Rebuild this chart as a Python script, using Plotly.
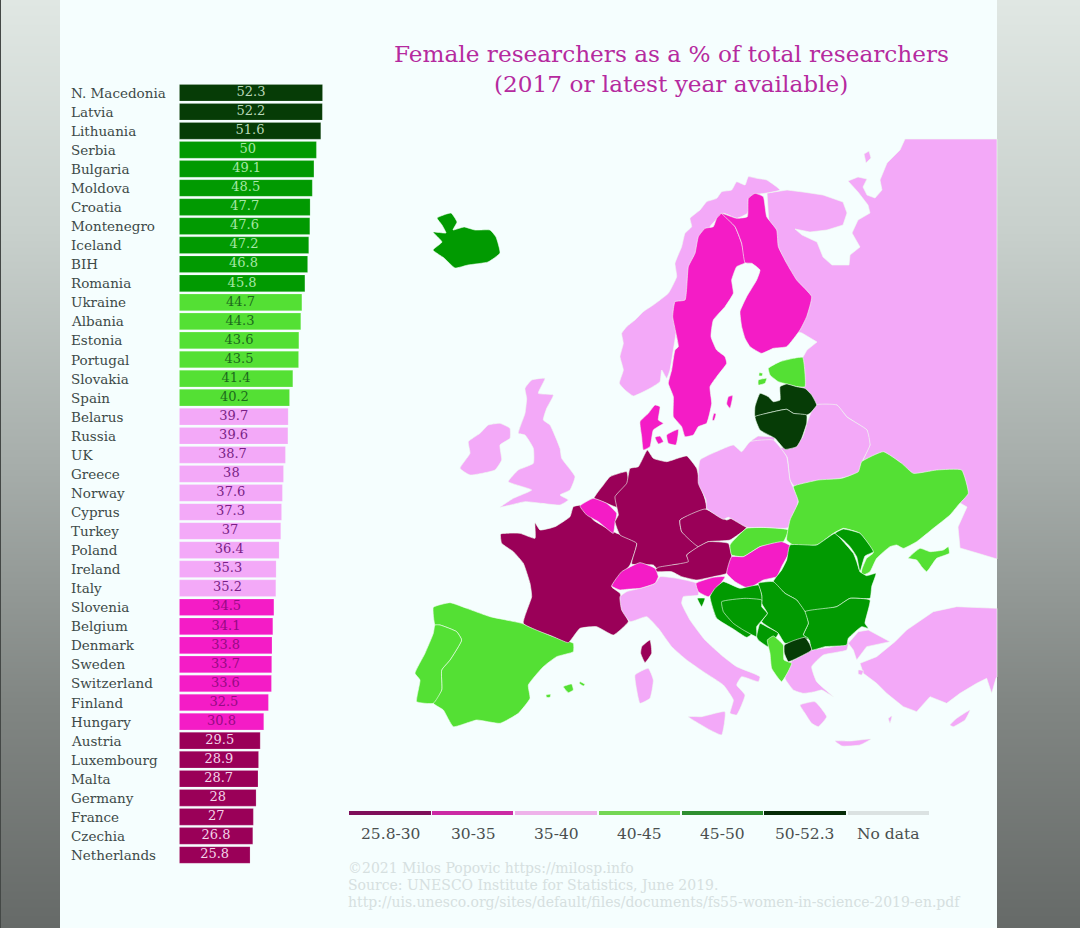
import plotly.graph_objects as go

# bar chart values, top to bottom
countries = ["N. Macedonia", "Latvia", "Lithuania", "Serbia", "Bulgaria", "Moldova", "Croatia",
             "Montenegro", "Iceland", "BIH", "Romania", "Ukraine", "Albania", "Estonia", "Portugal",
             "Slovakia", "Spain", "Belarus", "Russia", "UK", "Greece", "Norway", "Cyprus", "Turkey",
             "Poland", "Ireland", "Italy", "Slovenia", "Belgium", "Denmark", "Sweden", "Switzerland",
             "Finland", "Hungary", "Austria", "Luxembourg", "Malta", "Germany", "France", "Czechia",
             "Netherlands"]
shares = [52.3, 52.2, 51.6, 50, 49.1, 48.5, 47.7, 47.6, 47.2, 46.8, 45.8, 44.7, 44.3, 43.6, 43.5,
          41.4, 40.2, 39.7, 39.6, 38.7, 38, 37.6, 37.3, 37, 36.4, 35.3, 35.2, 34.5, 34.1, 33.8,
          33.7, 33.6, 32.5, 30.8, 29.5, 28.9, 28.7, 28, 27, 26.8, 25.8]

# legend
bin_labels = ["25.8-30", "30-35", "35-40", "40-45", "45-50", "50-52.3", "No data"]
bin_tops = [30, 35, 40, 45, 50, 60]
bin_colors = ["#9a0058", "#f41cc6", "#f3a9f8", "#54e034", "#019a01", "#063c06"]
bin_text = ["#f3d5ea", "#960a84", "#7a1f86", "#1c6a1c", "#a6e8a6", "#b9d8b9"]
legend_colors = ["#7e0f5a", "#cb2aa4", "#eeb2ea", "#74d654", "#2e8f30", "#062c08", "#dbe2e2"]
legend_left = [349, 432, 515, 599, 682, 764, 848]
legend_right = [431, 513, 597, 680, 763, 846, 929]
legend_mid = [390, 473, 556, 639, 722, 804, 888]

credit_lines = ["©2021 Milos Popovic https://milosp.info",
                "Source: UNESCO Institute for Statistics, June 2019.",
                "http://uis.unesco.org/sites/default/files/documents/fs55-women-in-science-2019-en.pdf"]

# side strip gradient, read down the edge of the picture
strip_y = [0, 230, 460, 700, 928]
strip_colors = ["#e0e7e3", "#c8d0cc", "#a7aeab", "#818683", "#666a68"]

sweden = [(335,250),(320,265),(310,290),(285,295),(265,320),(255,370),(235,410),(225,510),(195,515),(188,560),(205,650),(195,660),(185,720),(175,760),(190,800),(190,860),(215,890),(225,920),(250,915),(265,890),(290,880),(305,820),(300,770),(320,740),(350,700),(345,680),(320,660),(303,620),(310,570),(345,530),(370,490),(365,450),(380,410),(405,398),(395,340),(375,290)]
finland = [(405,398),(425,400),(450,420),(440,450),(410,500),(390,545),(395,590),(405,625),(420,650),(455,670),(490,655),(530,650),(570,600),(590,560),(605,500),(560,450),(530,400),(505,350),(500,300),(470,260),(460,200),(435,190),(415,205),(412,260),(380,265),(335,250),(375,290),(395,340)]
norway = [(470,150),(440,145),(415,140),(405,165),(380,155),(365,180),(335,185),(320,205),(290,215),(270,240),(240,265),(245,290),(225,310),(215,350),(195,400),(200,440),(175,490),(150,510),(130,525),(100,545),(75,570),(50,590),(35,610),(40,640),(30,680),(40,720),(28,760),(45,780),(70,798),(120,775),(150,755),(155,720),(170,745),(180,720),(200,600),(260,400),(300,290),(340,250),(380,265),(412,250),(430,195),(465,190),(510,180)]
jutland = [(90,875),(115,850),(135,825),(150,830),(145,870),(160,880),(130,900),(120,950),(100,960),(95,920)]
funen = [(135,922),(150,918),(160,935),(145,942)]
zealand = [(170,915),(205,898),(198,945),(175,940)]
gotland = [(355,800),(368,797),(360,835),(350,822)]
oland = [(312,850),(318,852),(312,872),(307,870)]
estonia = [(475,715),(510,695),(550,685),(578,682),(585,770),(560,770),(530,762),(505,755),(480,735)]
saaremaa = [(445,750),(470,745),(465,760),(445,765)]
hiiumaa = [(448,728),(458,730),(456,738),(447,737)]
latvia = [(435,860),(435,830),(450,790),(475,800),(490,815),(510,810),(510,770),(530,762),(560,770),(585,775),(605,795),(620,825),(600,850),(590,855),(550,850),(530,838),(470,850)]
lithuania = [(435,860),(470,850),(530,838),(550,850),(590,855),(590,880),(575,925),(560,950),(525,958),(495,925),(450,900)]

france = [(272,492),(330,490),(375,505),(375,458),(390,480),(435,470),(480,440),(490,410),(520,405),(550,450),(610,485),(680,518),(660,585),(605,650),(630,670),(640,720),(655,755),(610,795),(560,770),(510,775),(490,800),(475,818),(430,800),(340,760),(365,680),(360,640),(340,580),(310,545),(275,520)]
belgium = [(510,408),(550,385),(590,400),(620,430),(615,460),(610,490),(565,455),(530,435)]
netherlands = [(552,385),(580,345),(600,320),(650,305),(655,335),(640,360),(620,380),(622,412),(590,400)]
britain = [(345,55),(365,30),(405,25),(385,70),(430,75),(410,115),(400,150),(420,165),(450,235),(455,265),(495,320),(480,360),(450,375),(475,390),(450,405),(395,400),(345,395),(270,412),(310,385),(365,360),(295,335),(325,300),(370,280),(370,235),(345,195),(325,190),(345,130),(350,85)]
ireland = [(150,295),(180,250),(175,215),(210,190),(235,165),(270,160),(300,175),(300,205),(270,225),(275,270),(255,300),(180,315)]
spain = [(70,712),(120,698),(170,715),(240,740),(335,760),(430,800),(490,820),(490,845),(440,860),(400,890),(355,945),(360,985),(325,1030),(270,1060),(200,1050),(130,1070),(100,1020),(70,1000),(95,960),(95,900),(120,870),(155,810),(140,785),(90,765),(75,765)]
portugal = [(75,765),(90,765),(140,785),(155,810),(120,870),(95,900),(95,960),(70,1000),(20,995),(30,930),(15,910),(45,850),(70,790)]
mallorca = [(460,950),(485,942),(490,960),(475,968)]
menorca = [(510,935),(525,943),(520,948),(508,940)]
ibiza = [(408,975),(422,973),(420,982),(410,982)]

germany = [(120,85),(145,80),(172,30),(190,55),(230,65),(290,48),(320,85),(330,130),(350,205),(270,240),(275,275),(325,320),(290,345),(300,370),(250,375),(205,390),(190,375),(125,372),(140,310),(90,285),(75,245),(85,225),(75,170),(110,130)]
czechia = [(270,240),(345,207),(410,240),(425,235),(470,262),(420,300),(355,305),(325,320),(275,275)]
austria = [(190,395),(205,382),(245,375),(295,365),(290,345),(325,320),(355,305),(415,310),(425,350),(410,400),(370,410),(320,420),(275,410),(245,395)]
switzerland = [(65,438),(95,395),(150,368),(195,385),(205,410),(195,430),(150,445),(110,448),(90,450)]
slovenia = [(318,430),(370,412),(405,410),(385,440),(355,470),(325,455)]
hungary = [(425,350),(460,350),(510,320),(575,305),(605,320),(575,380),(560,410),(520,420),(475,445),(435,425),(410,400)]
slovakia = [(420,315),(470,265),(545,263),(595,270),(580,305),(510,320),(460,350),(425,345)]
italy = [(90,470),(110,455),(150,445),(195,430),(210,410),(260,415),(320,430),(325,465),(280,470),(275,490),(300,540),(345,600),(400,650),(440,680),(510,710),(505,725),(455,710),(440,735),(465,765),(440,825),(420,820),(430,780),(400,735),(340,695),(290,660),(245,620),(205,565),(170,530),(120,545),(95,510)]
sicily = [(295,830),(335,830),(405,815),(395,885),(360,870)]
sardinia = [(135,705),(175,685),(190,720),(180,775),(150,790),(140,750)]
corsica = [(155,620),(180,600),(185,640),(165,668),(152,640)]

poland = [(30,90),(90,60),(130,45),(155,65),(180,35),(250,30),(290,80),(300,150),(325,210),(300,290),(285,295),(215,292),(170,292),(115,262),(100,268),(50,235),(48,210),(25,160)]
ukraine = [(320,165),(385,150),(455,145),(505,125),(515,95),(580,65),(635,100),(670,130),(740,120),(815,120),(835,190),(805,225),(780,255),(730,295),(680,335),(640,355),(620,345),(600,350),(560,385),(540,425),(515,437),(515,420),(530,385),(550,368),(510,310),(460,295),(430,310),(380,345),(310,345),(290,330),(300,270),(325,215),(310,170)]
crimea = [(655,385),(690,355),(720,365),(760,360),(775,350),(778,370),(740,385),(710,425),(695,410),(680,390)]
moldova = [(435,310),(460,297),(510,310),(550,365),(525,378),(510,425),(500,380),(480,350),(460,330)]
romania = [(300,345),(380,345),(435,310),(460,335),(490,370),(500,395),(510,425),(530,437),(558,430),(545,470),(540,505),(480,505),(440,530),(345,545),(320,510),(285,490),(250,455),(275,420),(290,390)]
bulgaria = [(345,545),(440,530),(480,505),(540,510),(525,580),(535,595),(515,590),(475,625),(470,645),(405,650),(365,660),(358,630),(340,615),(355,580)]
serbia = [(205,460),(250,455),(285,490),(320,510),(345,545),(355,580),(340,615),(355,625),(285,640),(265,610),(235,590),(215,575),(232,550),(215,520),(215,495)]
# inner edge runs under bih, which is drawn after it
croatia = [(60,500),(75,475),(100,455),(150,475),(205,465),(215,495),(215,515),(165,518),(118,522),(125,545),(150,580),(185,612),(170,622),(130,597),(80,565)]
istria = [(22,505),(45,505),(35,530)]
bih = [(95,515),(165,505),(215,510),(215,530),(232,550),(200,590),(200,620),(160,600),(130,580),(100,545)]
montenegro = [(200,620),(210,580),(230,590),(265,610),(235,650),(205,630)]
macedonia = [(283,645),(310,632),(345,622),(358,640),(365,660),(330,680),(295,695),(283,670)]
albania = [(232,630),(250,618),(280,645),(282,690),(305,700),(275,755),(245,715),(240,670)]
greece = [(295,700),(330,680),(365,660),(430,650),(475,635),(470,660),(400,675),(365,710),(380,755),(430,800),(395,780),(375,785),(340,790),(310,780),(285,745)]
peloponnese = [(330,825),(375,815),(410,860),(385,890),(365,880),(345,850)]
crete = [(435,933),(480,933),(543,927),(510,945),(456,948)]
lesbos = [(505,720),(520,722),(515,735),(505,732)]
rhodes = [(595,865),(606,858),(600,880)]
turkey = [(615,635),(650,600),(730,545),(800,530),(921,535),(921,740),(918,745),(905,790),(890,745),(860,760),(810,790),(770,820),(720,800),(680,845),(640,830),(590,790),(560,760),(520,730),(510,700),(560,680)]
thrace = [(475,640),(505,605),(535,600),(600,635),(530,650),(500,690),(490,660)]
cyprus = [(780,885),(800,865),(840,840),(825,870),(790,890)]

# already in picture pixels
iceland = [(437,218),(451,213),(457,222),(453,230),(464,227),(475,230),(490,230),(496,237),(500,253),(488,262),(468,265),(455,268),(444,258),(433,250),(442,242),(433,232),(446,233),(442,225)]
russia = [(905,139),(900,150),(887,163),(880,180),(882,190),(875,198),(867,195),(863,187),(867,179),(858,177),(848,181),(858,192),(868,205),(870,213),(858,220),(852,233),(860,247),(850,255),(849,265),(832,265),(823,257),(817,242),(802,235),(795,229),(810,232),(827,230),(843,225),(847,213),(843,202),(823,195),(803,192),(787,190),(767,193),(770,240),(785,290),(790,330),(802,333),(817,342),(807,350),(803,357),(790,370),(795,385),(815,403),(817,407),(837,405),(847,417),(867,430),(870,445),(862,462),(900,490),(955,500),(967,507),(958,527),(960,548),(977,553),(997,559),(997,139)]
belarus = [(815,405),(837,405),(847,417),(867,430),(870,445),(862,462),(860,473),(842,478),(818,482),(795,487),(790,480),(787,457),(775,442),(780,448),(802,438),(807,423)]
kaliningrad = [(752,440),(758,436),(775,437),(773,445),(750,445)]
kanin_island = [(864,154),(869,151),(871,158),(866,163)]


def from_crop(pts, left, top):
    return [(left + x / 3, top + y / 3) for x, y in pts]


def colour_for(value):
    for top, col in zip(bin_tops, bin_colors):
        if value <= top:
            return col
    return bin_colors[-1]


value_of = dict(zip(countries, shares))

# (country the colour comes from, outline in picture pixels), drawn in this order
n8 = (610, 130)
w9 = (410, 370)
c10 = (590, 440)
e11 = (690, 430)
map_parts = [
    ("Russia", russia), ("Russia", kaliningrad), ("Russia", kanin_island), ("Belarus", belarus),
    ("Norway", from_crop(norway, *n8)), ("Sweden", from_crop(sweden, *n8)), ("Finland", from_crop(finland, *n8)),
    ("Denmark", from_crop(jutland, *n8)), ("Denmark", from_crop(funen, *n8)), ("Denmark", from_crop(zealand, *n8)),
    ("Sweden", from_crop(gotland, *n8)), ("Sweden", from_crop(oland, *n8)),
    ("Estonia", from_crop(estonia, *n8)), ("Estonia", from_crop(saaremaa, *n8)), ("Estonia", from_crop(hiiumaa, *n8)),
    ("Latvia", from_crop(latvia, *n8)), ("Lithuania", from_crop(lithuania, *n8)),
    ("Iceland", iceland),
    ("UK", from_crop(britain, *w9)), ("Ireland", from_crop(ireland, *w9)),
    ("Spain", from_crop(spain, *w9)), ("Portugal", from_crop(portugal, *w9)),
    ("Spain", from_crop(mallorca, *w9)), ("Spain", from_crop(menorca, *w9)), ("Spain", from_crop(ibiza, *w9)),
    ("France", from_crop(france, *w9)), ("Netherlands", from_crop(netherlands, *w9)), ("Belgium", from_crop(belgium, *w9)),
    ("Italy", from_crop(italy, *c10)), ("Italy", from_crop(sicily, *c10)), ("Italy", from_crop(sardinia, *c10)),
    ("France", from_crop(corsica, *c10)),
    ("Germany", from_crop(germany, *c10)), ("Czechia", from_crop(czechia, *c10)), ("Austria", from_crop(austria, *c10)),
    ("Switzerland", from_crop(switzerland, *c10)), ("Slovenia", from_crop(slovenia, *c10)),
    ("Slovakia", from_crop(slovakia, *c10)), ("Hungary", from_crop(hungary, *c10)),
    ("Poland", from_crop(poland, *e11)), ("Ukraine", from_crop(ukraine, *e11)), ("Ukraine", from_crop(crimea, *e11)),
    ("Turkey", from_crop(turkey, *e11)), ("Turkey", from_crop(thrace, *e11)),
    ("Greece", from_crop(greece, *e11)), ("Greece", from_crop(peloponnese, *e11)), ("Greece", from_crop(crete, *e11)),
    ("Greece", from_crop(lesbos, *e11)), ("Greece", from_crop(rhodes, *e11)), ("Cyprus", from_crop(cyprus, *e11)),
    ("Romania", from_crop(romania, *e11)), ("Moldova", from_crop(moldova, *e11)), ("Bulgaria", from_crop(bulgaria, *e11)),
    ("Serbia", from_crop(serbia, *e11)), ("Croatia", from_crop(croatia, *e11)), ("Croatia", from_crop(istria, *e11)),
    ("BIH", from_crop(bih, *e11)), ("Montenegro", from_crop(montenegro, *e11)), ("Albania", from_crop(albania, *e11)),
    ("N. Macedonia", from_crop(macedonia, *e11)),
]

serif = "DejaVu Serif"
fig = go.Figure()

for name, outline in map_parts:
    xs = [p[0] for p in outline] + [outline[0][0]]
    ys = [p[1] for p in outline] + [outline[0][1]]
    # russia and turkey run into the strip, their corners have to stay square
    edge = dict(shape="linear") if name in ("Russia", "Turkey") else dict(shape="spline", smoothing=0.4)
    fig.add_trace(go.Scatter(x=xs, y=ys, mode="lines", fill="toself", name=name,
                             fillcolor=colour_for(value_of[name]),
                             line=dict(color="rgba(238,255,240,0.6)", width=1, **edge),
                             hoverinfo="name", showlegend=False))

fig.add_trace(go.Bar(x=shares, y=countries, orientation="h", xaxis="x2", yaxis="y2",
                     marker=dict(color=[colour_for(v) for v in shares],
                                 line=dict(color="rgba(255,255,255,0.35)", width=0.5)),
                     showlegend=False))
# values sit in the middle of each bar, a separate trace so they keep their size
fig.add_trace(go.Scatter(x=[v / 2 for v in shares], y=countries, xaxis="x2", yaxis="y2", mode="text",
                         text=[f"{v:g}" for v in shares], textposition="middle center",
                         textfont=dict(family=serif, size=13,
                                       color=[bin_text[bin_colors.index(colour_for(v))] for v in shares]),
                         hoverinfo="skip", showlegend=False))

# legend bars
for left, right, col in zip(legend_left, legend_right, legend_colors):
    fig.add_trace(go.Scatter(x=[left, right], y=[813, 813], mode="lines",
                             line=dict(color=col, width=4), hoverinfo="skip", showlegend=False))

# grey strips either side, x are the cell edges
for edges in [[1, 30, 60], [997, 1038, 1080]]:
    fig.add_trace(go.Heatmap(x=edges, y=strip_y, z=[[v, v] for v in strip_y],
                             colorscale=[[v / 928, c] for v, c in zip(strip_y, strip_colors)],
                             zmin=0, zmax=928, zsmooth="best", showscale=False, hoverinfo="skip"))

annotations = []
for name in countries:
    annotations.append(dict(text=name, x=69 / 1080, xref="paper", y=name, yref="y2", xanchor="left",
                            showarrow=False, font=dict(family=serif, size=13.5, color="#3d4a48")))
for label, mid in zip(bin_labels, legend_mid):
    annotations.append(dict(text=label, x=mid, y=834, xref="x", yref="y", showarrow=False,
                            font=dict(family=serif, size=15.5, color="#4a4f4f")))
for line, y in zip(credit_lines, [868, 885, 902]):
    annotations.append(dict(text=line, x=346, y=y, xref="x", yref="y", xanchor="left", showarrow=False,
                            font=dict(family=serif, size=14, color="#d6e0e0")))
for line, y in zip(["Female researchers as a % of total researchers", "(2017 or latest year available)"], [53, 83]):
    annotations.append(dict(text=line, x=671, y=y, xref="x", yref="y", showarrow=False,
                            font=dict(family=serif, size=23.2, color="#b52a9f")))

fig.update_layout(
    width=1080, height=928, margin=dict(l=0, r=0, t=0, b=0), autosize=False,
    paper_bgcolor="#f5fefe", plot_bgcolor="rgba(0,0,0,0)",
    xaxis=dict(range=[0, 1080], visible=False, domain=[0, 1]),
    yaxis=dict(range=[928, 0], visible=False, domain=[0, 1]),
    xaxis2=dict(range=[0, 52.3], visible=False, domain=[179.3 / 1080, 322.7 / 1080], anchor="y2"),
    yaxis2=dict(range=[40.5, -0.5], visible=False, type="category", categoryorder="array", categoryarray=countries,
                domain=[(928 - 864.5) / 928, (928 - 83.2) / 928], anchor="x2"),
    bargap=0.125,
    annotations=annotations,
    shapes=[dict(type="rect", x0=0, x1=1, y0=0, y1=928, xref="x", yref="y", fillcolor="#444846", line_width=0)],
)
# the page's default body margin would push the chart 8px in
fig.write_html("out.html", config={"displayModeBar": False}, post_script="document.body.style.margin='0';")
